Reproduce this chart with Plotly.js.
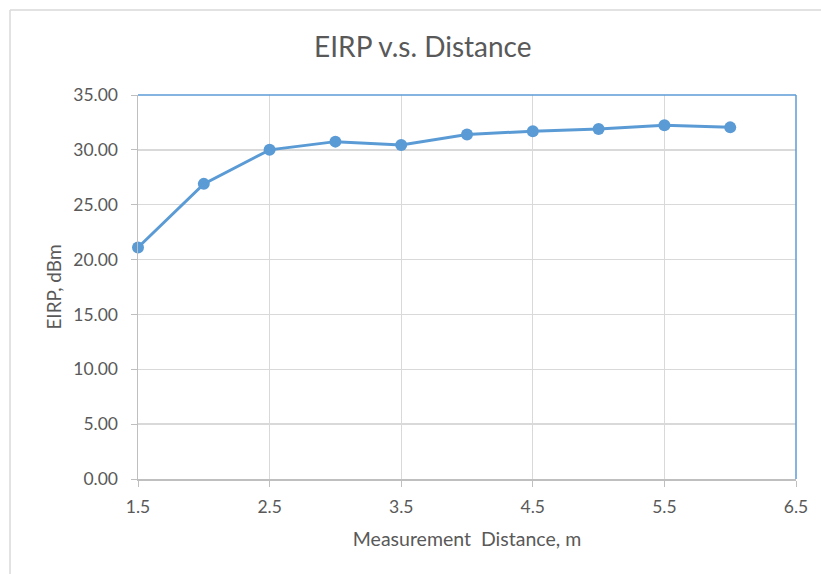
<!DOCTYPE html>
<html><head><meta charset="utf-8">
<script src="https://cdn.plot.ly/plotly-3.0.1.min.js"></script>
<style>body{margin:0;background:#fff}#c{width:821px;height:574px}</style>
</head><body><div id="c"></div>
<script>
const distance = [1.5, 2.0, 2.5, 3.0, 3.5, 4.0, 4.5, 5.0, 5.5, 6.0];
const eirp = [21.1, 26.9, 30.0, 30.75, 30.45, 31.4, 31.7, 31.9, 32.25, 32.05];
const xTicks = [1.5, 2.5, 3.5, 4.5, 5.5, 6.5];
const yTicks = [0, 5, 10, 15, 20, 25, 30, 35];

const font = "Lato, 'Open Sans', sans-serif";
const blue = '#5B9BD5';
const grey = '#595959';
const trace = {
  x: distance, y: eirp, type: 'scatter', mode: 'lines+markers',
  line: {color: blue, width: 3},
  marker: {color: blue, size: 12},
  cliponaxis: false, hoverinfo: 'skip'
};
const layout = {
  width: 821, height: 574,
  margin: {l: 138, r: 25, t: 95, b: 95},
  paper_bgcolor: '#fff', plot_bgcolor: '#fff',
  showlegend: false,
  font: {family: font, color: grey, size: 17},
  title: {text: 'EIRP v.s. Distance', font: {family: font, size: 28, color: grey}, x: 0.515, xanchor: 'center', y: 0.917, yanchor: 'middle'},
  xaxis: {
    range: [1.5, 6.5], tickvals: xTicks, ticktext: xTicks.map(v => v.toFixed(1)),
    showgrid: true, gridcolor: '#D9D9D9', gridwidth: 1.3,
    showline: true, linecolor: '#BFBFBF', linewidth: 1.5,
    ticks: 'outside', ticklen: 6, tickcolor: '#BFBFBF', ticklabelstandoff: 5,
    zeroline: false, tickfont: {size: 17.5, color: grey},
    title: {text: 'Measurement  Distance, m', font: {size: 19.5, color: grey}, standoff: 17}
  },
  yaxis: {
    range: [0, 35], tickvals: yTicks, ticktext: yTicks.map(v => v.toFixed(2)),
    showgrid: true, gridcolor: '#D9D9D9', gridwidth: 1.3,
    showline: true, linecolor: '#BFBFBF', linewidth: 1.5,
    ticks: 'outside', ticklen: 6, tickcolor: '#BFBFBF', ticklabelstandoff: 9,
    zeroline: false, tickfont: {size: 17.5, color: grey},
    title: {text: 'EIRP, dBm', font: {size: 19, color: grey}, standoff: 6}
  },
  shapes: [
    {type: 'line', xref: 'paper', yref: 'paper', x0: 0, x1: 1, y0: 1, y1: 1, line: {color: blue, width: 1.5}},
    {type: 'line', xref: 'paper', yref: 'paper', x0: 1, x1: 1, y0: 0, y1: 1, line: {color: blue, width: 1.5}},
    {type: 'line', xref: 'paper', yref: 'paper', x0: -0.1945, x1: 1.1, y0: 1.2214, y1: 1.2214, line: {color: '#D9D9D9', width: 1.5}},
    {type: 'line', xref: 'paper', yref: 'paper', x0: -0.1945, x1: -0.1945, y0: -0.3, y1: 1.2214, line: {color: '#D9D9D9', width: 1.5}}
  ]
};
Plotly.newPlot('c', [trace], layout, {displayModeBar: false, staticPlot: true});
</script></body></html>
